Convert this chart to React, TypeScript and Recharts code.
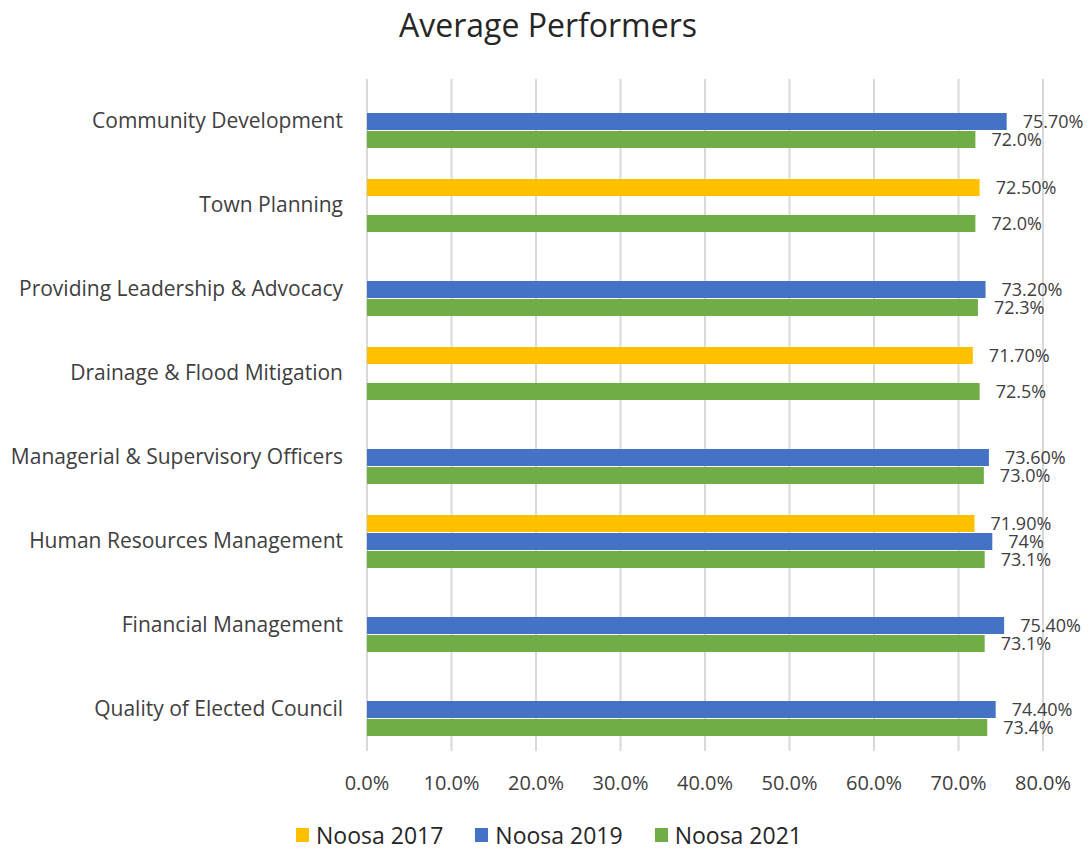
import { BarChart, Bar, XAxis, YAxis, CartesianGrid, Legend, LabelList } from 'recharts';

const categories = [
  'Community Development',
  'Town Planning',
  'Providing Leadership & Advocacy',
  'Drainage & Flood Mitigation',
  'Managerial & Supervisory Officers',
  'Human Resources Management',
  'Financial Management',
  'Quality of Elected Council',
];

const noosa2017 = [null, 72.5, null, 71.7, null, 71.9, null, null];
const noosa2019 = [75.7, null, 73.2, null, 73.6, 74, 75.4, 74.4];
const noosa2021 = [72.0, 72.0, 72.3, 72.5, 73.0, 73.1, 73.1, 73.4];

const labels2017 = [null, '72.50%', null, '71.70%', null, '71.90%', null, null];
const labels2019 = ['75.70%', null, '73.20%', null, '73.60%', '74%', '75.40%', '74.40%'];
const labels2021 = ['72.0%', '72.0%', '72.3%', '72.5%', '73.0%', '73.1%', '73.1%', '73.4%'];

const xTicks = [0, 10, 20, 30, 40, 50, 60, 70, 80];

const series = [
  { key: 'n2017', label: 'l2017', name: 'Noosa 2017', color: '#FFC000' },
  { key: 'n2019', label: 'l2019', name: 'Noosa 2019', color: '#4472C4' },
  { key: 'n2021', label: 'l2021', name: 'Noosa 2021', color: '#70AD47' },
];

const chartData = categories.map((name, i) => ({
  name,
  n2017: noosa2017[i],
  n2019: noosa2019[i],
  n2021: noosa2021[i],
  l2017: labels2017[i],
  l2019: labels2019[i],
  l2021: labels2021[i],
}));

const FONT = '"Open Sans", sans-serif';

function LegendContent() {
  return (
    <div
      style={{
        display: 'flex',
        justifyContent: 'center',
        alignItems: 'center',
        height: 30,
        paddingLeft: 6,
        fontFamily: FONT,
        fontSize: 23,
        color: '#262626',
      }}
    >
      {series.map((s) => (
        <div key={s.key} style={{ display: 'flex', alignItems: 'center', margin: '0 16px' }}>
          <span style={{ width: 13, height: 14, background: s.color, marginRight: 7 }} />
          <span>{s.name}</span>
        </div>
      ))}
    </div>
  );
}

export default function App() {
  return (
    <div style={{ position: 'absolute', left: 0, top: 0, width: 1092, height: 850, background: '#fff' }}>
      <div
        style={{
          position: 'absolute',
          top: 3,
          left: 0,
          width: 1096,
          textAlign: 'center',
          fontFamily: FONT,
          fontSize: 32,
          color: '#262626',
        }}
      >
        Average Performers
      </div>
      <BarChart
        width={1092}
        height={850}
        data={chartData}
        layout="vertical"
        margin={{ top: 79, right: 49, left: 0, bottom: 0 }}
        barSize={17}
        barGap={1}
      >
        <CartesianGrid horizontal={false} vertical={true} stroke="#d9d9d9" strokeWidth={2} />
        <XAxis
          type="number"
          domain={[0, 80]}
          ticks={xTicks}
          tickFormatter={(v: number) => `${v.toFixed(1)}%`}
          axisLine={false}
          tickLine={false}
          tickSize={0}
          tickMargin={25}
          height={69}
          tick={{ fill: '#404040', fontSize: 20, fontFamily: FONT }}
        />
        <YAxis
          type="category"
          dataKey="name"
          width={367}
          axisLine={false}
          tickLine={false}
          tickSize={0}
          tickMargin={24}
          interval={0}
          tick={{ fill: '#404040', fontSize: 21, fontFamily: FONT }}
        />
        <Legend verticalAlign="bottom" content={<LegendContent />} wrapperStyle={{ left: 0, width: 1092 }} />
        {series.map((s) => (
          <Bar key={s.key} dataKey={s.key} name={s.name} fill={s.color} isAnimationActive={false}>
            <LabelList
              dataKey={s.label}
              position="right"
              offset={16}
              fill="#404040"
              fontSize={18}
              fontFamily={FONT}
            />
          </Bar>
        ))}
      </BarChart>
    </div>
  );
}
